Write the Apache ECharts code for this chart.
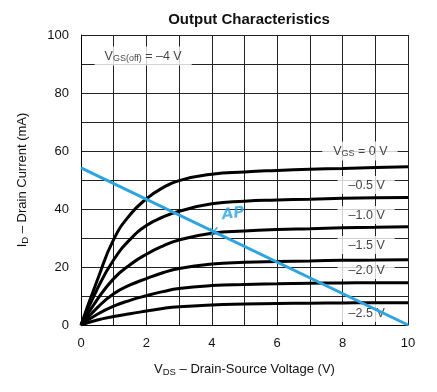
<!DOCTYPE html>
<html><head><meta charset="utf-8">
<script src="https://cdn.jsdelivr.net/npm/echarts@6/dist/echarts.min.js"></script>
<style>html,body{margin:0;padding:0;background:#fff}#c{width:437px;height:392px}</style>
</head><body><div id="c"></div>
<script>
// V_DS sample points (V)
const vds = [0, 0.5, 1, 1.5, 2, 2.5, 3, 4, 5, 6, 7, 8, 9, 10];
// I_D curves (mA) per V_GS
const idVgs0   = [0, 15.5, 29.5, 38.0, 43.5, 47.3, 49.8, 52.0, 52.8, 53.3, 53.7, 54.0, 54.3, 54.6];
const idVgsM05 = [0, 12.5, 22.5, 29.5, 34.3, 37.2, 39.2, 41.8, 42.7, 43.1, 43.4, 43.7, 43.9, 44.0];
const idVgsM10 = [0, 8.8, 16.0, 20.8, 24.4, 27.2, 29.3, 31.6, 32.4, 32.9, 33.2, 33.5, 33.7, 33.9];
const idVgsM15 = [0, 6.0, 10.8, 13.8, 16.0, 18.0, 19.5, 21.0, 21.6, 21.9, 22.1, 22.3, 22.4, 22.5];
const idVgsM20 = [0, 3.7, 6.5, 8.5, 10.1, 11.5, 12.6, 13.6, 14.0, 14.2, 14.4, 14.5, 14.6, 14.6];
const idVgsM25 = [0, 1.7, 2.9, 3.9, 4.8, 5.7, 6.3, 6.9, 7.2, 7.4, 7.5, 7.6, 7.7, 7.7];
const curves = [idVgs0, idVgsM05, idVgsM10, idVgsM15, idVgsM20, idVgsM25];
// load line endpoints (V, mA)
const loadLineX = [0, 10];
const loadLineY = [54.2, 0];
// curve labels
const curveLabelText = ['{n|V}{s|GS}{n| = 0 V}', '–0.5 V', '–1.0 V', '–1.5 V', '–2.0 V', '–2.5 V'];
const curveLabelX = [8.53, 8.72, 8.72, 8.72, 8.72, 8.72];
const curveLabelY = [60.0, 48.3, 37.9, 27.6, 19.0, 4.1];
// cutoff annotation
const offLabelText = '{n|V}{s|GS(off)}{n| = –4 V}';
const offLabelPos = [1.9, 92.8];
// operating point annotation
const apText = 'AP';
const apPos = [4.65, 38.3];
const apMarkPos = [4.07, 32.0];

const FONT = 'Liberation Sans, Arial, Helvetica, sans-serif';
const rich = {
  n: {fontSize: 12.5, fontFamily: FONT, color: '#111'},
  s: {fontSize: 9, fontFamily: FONT, color: '#111', padding: [5, 0, 0, 0]}
};
const richAxis = {
  n: {fontSize: 13, fontFamily: FONT, color: '#111'},
  s: {fontSize: 9.5, fontFamily: FONT, color: '#111', padding: [5, 0, 0, 0]}
};

const chart = echarts.init(document.getElementById('c'), null, {renderer: 'canvas'});

const series = curves.map((c, i) => ({
  type: 'line',
  name: 'c' + i,
  data: vds.map((x, k) => [x, c[k]]),
  smooth: 0.5,
  showSymbol: false,
  symbol: 'none',
  lineStyle: {color: '#000', width: 3},
  z: 3,
  silent: true
}));

series.push({
  type: 'scatter',
  symbolSize: 0,
  z: 2,
  silent: true,
  data: curveLabelX.map((x, i) => ({value: [x, curveLabelY[i]], lbl: curveLabelText[i]})),
  label: {
    show: true, position: 'inside',
    formatter: p => p.data.lbl.indexOf('{') === 0 ? p.data.lbl : '{n|' + p.data.lbl + '}',
    backgroundColor: '#fff', padding: [3, 10, 2, 11],
    rich: rich
  }
});
series.push({
  type: 'scatter',
  symbolSize: 0,
  z: 2,
  silent: true,
  data: [offLabelPos],
  label: {
    show: true, position: 'inside',
    formatter: offLabelText,
    backgroundColor: '#fff', padding: [3, 10, 2, 10],
    rich: rich
  }
});
series.push({
  type: 'line',
  data: loadLineX.map((x, i) => [x, loadLineY[i]]),
  showSymbol: false, symbol: 'none',
  lineStyle: {color: '#2ba4e0', width: 3},
  z: 5, silent: true
});
series.push({
  type: 'scatter',
  symbolSize: 0, z: 6, silent: true,
  data: [{value: apPos, t: apText}, {value: apMarkPos, t: '×'}],
  label: {
    show: true, position: 'inside',
    formatter: p => p.data.t,
    color: '#2ba4e0', fontSize: 15, fontWeight: 'bold', fontStyle: 'italic',
    fontFamily: 'DejaVu Sans, sans-serif', rotate: 8
  }
});

chart.setOption({
  animation: false,
  backgroundColor: '#fff',
  title: {
    text: 'Output Characteristics',
    left: 244, top: 7, textAlign: 'center',
    textStyle: {fontFamily: FONT, fontSize: 15, fontWeight: 'bold', color: '#111'}
  },
  grid: {left: 81, right: 29, top: 35, bottom: 67, containLabel: false},
  xAxis: {
    type: 'value', min: 0, max: 10, interval: 1,
    axisLine: {show: true, onZero: false, lineStyle: {color: '#000', width: 1}},
    axisTick: {show: false},
    splitLine: {show: true, lineStyle: {color: '#222', width: 1}},
    axisLabel: {
      margin: 12, fontSize: 13, fontFamily: FONT, color: '#111',
      formatter: v => (v % 2 === 0 ? String(v) : '')
    },
    name: '{n|V}{s|DS}{n| – Drain-Source Voltage (V)}',
    nameLocation: 'middle', nameGap: 37,
    nameTextStyle: {rich: richAxis}
  },
  yAxis: {
    type: 'value', min: 0, max: 100, interval: 10,
    axisLine: {show: true, lineStyle: {color: '#000', width: 1}},
    axisTick: {show: false},
    splitLine: {show: true, lineStyle: {color: '#222', width: 1}},
    axisLabel: {
      margin: 12, fontSize: 13, fontFamily: FONT, color: '#111',
      formatter: v => (v % 20 === 0 ? String(v) : '')
    },
    name: '{n|I}{s|D}{n| – Drain Current (mA)}',
    nameLocation: 'middle', nameGap: 51, nameRotate: 90,
    nameTextStyle: {rich: richAxis}
  },
  series: series
});
</script>
</body></html>
